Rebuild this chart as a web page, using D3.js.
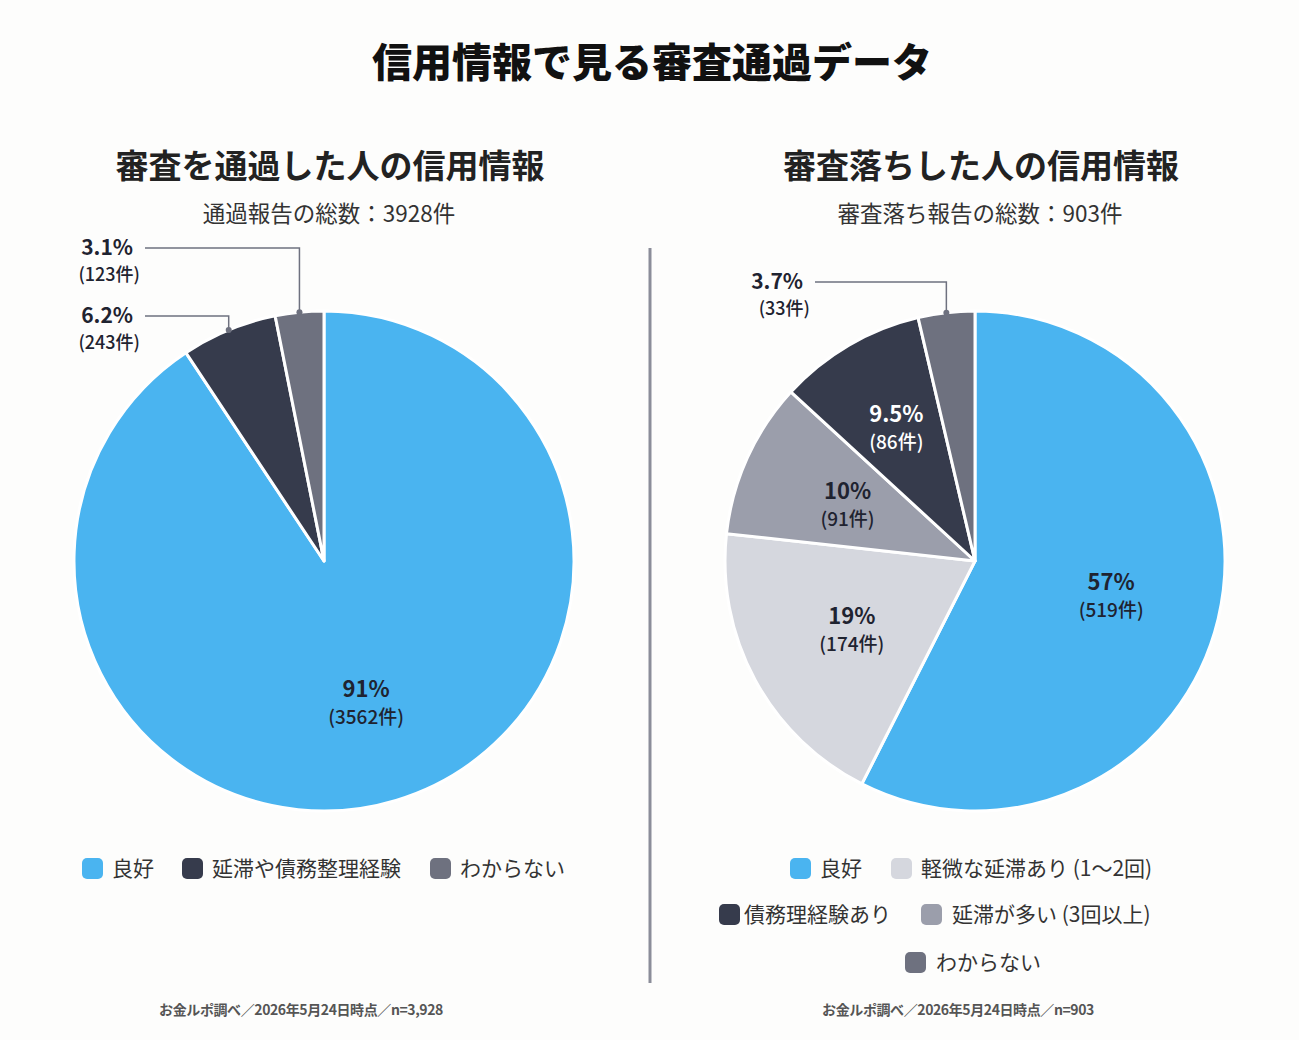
<!DOCTYPE html>
<html lang="ja">
  <head>
    <meta charset="utf-8" />
    <title>信用情報で見る審査通過データ</title>
    <script src="https://d3js.org/d3.v7.min.js"></script>
    <style>
      body { margin: 0; background: #fdfdfc; }
      svg { display: block; font-family: "Noto Sans CJK JP", "Noto Sans", sans-serif; }
    </style>
  </head>
  <body>
    <div id="chart"></div>
    <script>
      /***************
       * data
       ***************/
      const passCategories = ["良好", "延滞や債務整理経験", "わからない"];
      const passCounts = [3562, 243, 123];
      const passPercents = ["91%", "6.2%", "3.1%"];

      const failCategories = ["良好", "軽微な延滞あり (1〜2回)", "延滞が多い (3回以上)", "債務理経験あり", "わからない"];
      const failCounts = [519, 174, 91, 86, 33];
      const failPercents = ["57%", "19%", "10%", "9.5%", "3.7%"];

      const colorMap = {
        "良好": "#4ab4f0",
        "延滞や債務整理経験": "#363b4c",
        "債務理経験あり": "#363b4c",
        "わからない": "#6e717f",
        "軽微な延滞あり (1〜2回)": "#d5d7de",
        "延滞が多い (3回以上)": "#9b9eab"
      };

      /***************
       * svg
       ***************/
      const width = 1299, height = 1040;
      const svg = d3.select("#chart").append("svg")
        .attr("width", width).attr("height", height);

      svg.append("text")
        .attr("x", 652).attr("y", 77)
        .attr("text-anchor", "middle")
        .attr("font-size", 40).attr("font-weight", 900)
        .attr("fill", "#111")
        .text("信用情報で見る審査通過データ");

      // divider
      svg.append("line")
        .attr("x1", 650).attr("x2", 650)
        .attr("y1", 248).attr("y2", 983)
        .attr("stroke", "#8b8d99").attr("stroke-width", 3);

      const radius = 250;

      function drawPie(opt) {
        const g = svg.append("g");
        const data = opt.categories.map((c, i) => ({ cat: c, value: opt.counts[i], pct: opt.percents[i] }));

        g.append("text")
          .attr("x", opt.cx + 6).attr("y", 178)
          .attr("text-anchor", "middle")
          .attr("font-size", 33).attr("font-weight", 700).attr("fill", "#222")
          .text(opt.title);
        g.append("text")
          .attr("x", opt.cx + 5).attr("y", 222)
          .attr("text-anchor", "middle")
          .attr("font-size", 22.5).attr("fill", "#333")
          .text(opt.subtitle);

        const pie = d3.pie().sort(null).value(d => d.value);
        const arc = d3.arc().innerRadius(0).outerRadius(radius);
        const arcs = pie(data);

        const pg = g.append("g").attr("transform", `translate(${opt.cx},${opt.cy})`);
        pg.selectAll("path")
          .data(arcs)
          .enter()
          .append("path")
          .attr("d", arc)
          .attr("fill", d => colorMap[d.data.cat])
          .attr("stroke", "#fff")
          .attr("stroke-width", 3)
          .attr("stroke-linejoin", "round");

        arcs.forEach(d => {
          const mid = (d.startAngle + d.endAngle) / 2;
          const frac = d.endAngle - d.startAngle;
          if (frac > 0.5) {
            // inside label
            const lr = opt.labelR(d);
            const x = lr * Math.sin(mid), y = -lr * Math.cos(mid);
            const dark = colorMap[d.data.cat] === "#363b4c";
            const col = dark ? "#fff" : "#1f2330";
            pg.append("text").attr("x", x).attr("y", y - 4)
              .attr("text-anchor", "middle").attr("font-size", 22).attr("font-weight", 700)
              .attr("fill", col).text(d.data.pct);
            pg.append("text").attr("x", x).attr("y", y + 23)
              .attr("text-anchor", "middle").attr("font-size", 19).attr("font-weight", 500)
              .attr("fill", col).text(`(${d.data.value}件)`);
          } else {
            // outside label with leader line
            const ex = radius * Math.sin(mid), ey = -radius * Math.cos(mid);
            const ly = opt.leaderY(d) - opt.cy;
            const lx = opt.leaderX(d) - opt.cx;
            pg.append("polyline")
              .attr("points", `${lx},${ly} ${ex},${ly} ${ex},${ey}`)
              .attr("fill", "none").attr("stroke", "#6e717f").attr("stroke-width", 1.5);
            pg.append("circle").attr("cx", ex).attr("cy", ey).attr("r", 3).attr("fill", "#6e717f");
            pg.append("text").attr("x", lx - 12).attr("y", ly + 7)
              .attr("text-anchor", "end").attr("font-size", 21).attr("font-weight", 700)
              .attr("fill", "#1f2330").text(d.data.pct);
            pg.append("text").attr("x", lx - 5).attr("y", ly + 33)
              .attr("text-anchor", "end").attr("font-size", 18).attr("font-weight", 500)
              .attr("fill", "#1f2330").text(`(${d.data.value}件)`);
          }
        });

        // legend
        opt.legendRows.forEach(row => {
          row.items.forEach(it => {
            const lgi = g.append("g").attr("transform", `translate(${it.x},${row.y})`);
            lgi.append("rect").attr("x", -10).attr("y", -10).attr("width", 21).attr("height", 21)
              .attr("rx", 5).attr("fill", colorMap[it.cat]);
            lgi.append("text").attr("x", it.tx).attr("y", 8)
              .attr("font-size", 21).attr("fill", "#333").text(it.cat);
          });
        });

        g.append("text")
          .attr("x", opt.footerX).attr("y", 1015)
          .attr("text-anchor", "middle")
          .attr("font-size", 14).attr("font-weight", 700).attr("fill", "#555")
          .attr("letter-spacing", -0.4)
          .text(opt.footer);
      }

      drawPie({
        cx: 324, cy: 561,
        title: "審査を通過した人の信用情報",
        subtitle: "通過報告の総数：3928件",
        categories: passCategories, counts: passCounts, percents: passPercents,
        labelR: () => 146,
        leaderX: () => 145,
        leaderY: d => d.data.cat === "わからない" ? 248 : 316,
        legendRows: [
          { y: 868, items: [
            { cat: "良好", x: 92, tx: 20 },
            { cat: "延滞や債務整理経験", x: 192, tx: 20 },
            { cat: "わからない", x: 440, tx: 20 }
          ] }
        ],
        footerX: 301,
        footer: "お金ルポ調べ／2026年5月24日時点／n=3,928"
      });

      drawPie({
        cx: 975, cy: 561,
        title: "審査落ちした人の信用情報",
        subtitle: "審査落ち報告の総数：903件",
        categories: failCategories, counts: failCounts, percents: failPercents,
        labelR: d => d.data.cat === "債務理経験あり" ? 156 : 140,
        leaderX: () => 815,
        leaderY: () => 282,
        legendRows: [
          { y: 868, items: [
            { cat: "良好", x: 800, tx: 20 },
            { cat: "軽微な延滞あり (1〜2回)", x: 901, tx: 20 }
          ] },
          { y: 914, items: [
            { cat: "債務理経験あり", x: 729, tx: 15 },
            { cat: "延滞が多い (3回以上)", x: 931, tx: 21 }
          ] },
          { y: 962, items: [
            { cat: "わからない", x: 915, tx: 21 }
          ] }
        ],
        footerX: 958,
        footer: "お金ルポ調べ／2026年5月24日時点／n=903"
      });
    </script>
  </body>
</html>
